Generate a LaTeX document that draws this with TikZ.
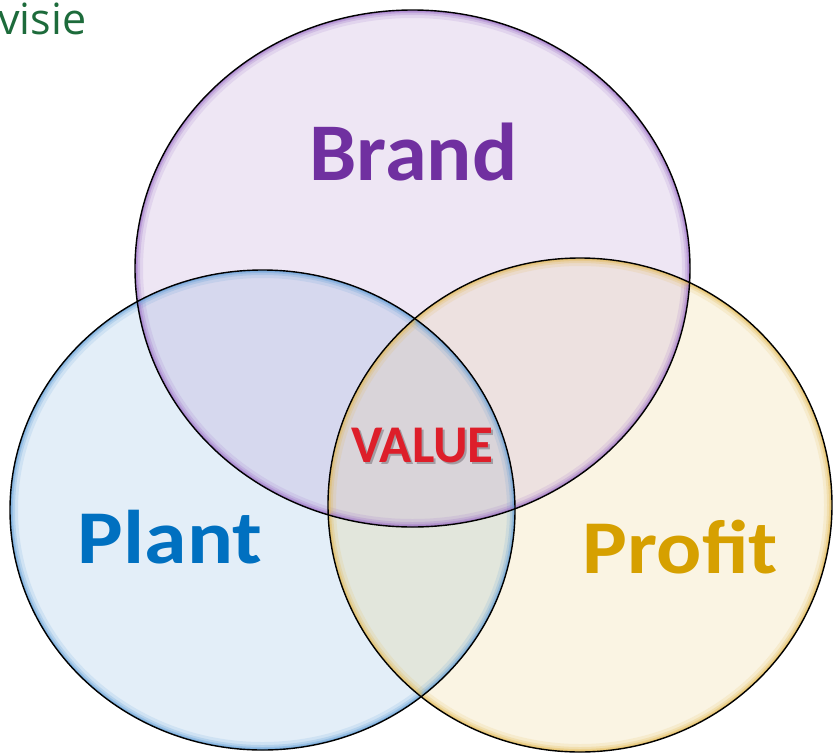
\documentclass[tikz,border=0pt]{standalone}
\usepackage{fontspec}
\setmainfont{Carlito}
\newfontfamily\visiefont{Open Sans}
\begin{document}
\begin{tikzpicture}[x=1pt,y=-1pt,
  lbl/.style={inner sep=0pt,anchor=base,font=\bfseries},
  rim/.style={line width=1.4pt,draw=black}]
\definecolor{brandfill}{HTML}{EEE6F4}
\definecolor{plantfill}{HTML}{E3EEF8}
\definecolor{profitfill}{HTML}{FAF4E3}
\definecolor{bpfill}{HTML}{D6D8EE}
\definecolor{brfill}{HTML}{EDE1E0}
\definecolor{ppfill}{HTML}{E2E6DC}
\definecolor{midfill}{HTML}{D9D4D9}
\definecolor{brandglow}{HTML}{9868C4}
\definecolor{plantglow}{HTML}{5A9AD6}
\definecolor{profitglow}{HTML}{E2B64A}
\definecolor{brandtxt}{HTML}{7030A0}
\definecolor{planttxt}{HTML}{0070C0}
\definecolor{profittxt}{HTML}{D6A000}
\definecolor{valuetxt}{HTML}{DD1E2A}
\definecolor{valueshadow}{HTML}{A29CA2}
\definecolor{visietxt}{HTML}{1D6B3B}
\useasboundingbox (0,0) rectangle (833,753);
\coordinate (cb) at (412.5,268.5);
\coordinate (cl) at (262.5,510);
\coordinate (cr) at (580,505);
\def\brandpath{(cb) ellipse [x radius=277.5pt, y radius=258.5pt]}
\def\plantpath{(cl) ellipse [x radius=252.5pt, y radius=240pt]}
\def\profitpath{(cr) ellipse [x radius=252pt, y radius=247pt]}
% base fills
\fill[brandfill] \brandpath;
\fill[plantfill] \plantpath;
\fill[profitfill] \profitpath;
% pairwise overlaps
\begin{scope}\clip \brandpath; \fill[bpfill] \plantpath; \end{scope}
\begin{scope}\clip \brandpath; \fill[brfill] \profitpath; \end{scope}
\begin{scope}\clip \plantpath; \fill[ppfill] \profitpath; \end{scope}
\begin{scope}\clip \brandpath; \clip \plantpath; \fill[midfill] \profitpath; \end{scope}
% inner glows
\foreach \w/\o in {16/0.14,10/0.22,6/0.32,3/0.45}{
  \begin{scope}\clip \brandpath; \draw[brandglow,line width=\w pt,opacity=\o] \brandpath; \end{scope}
  \begin{scope}\clip \plantpath; \draw[plantglow,line width=\w pt,opacity=\o] \plantpath; \end{scope}
  \begin{scope}\clip \profitpath; \draw[profitglow,line width=\w pt,opacity=\o] \profitpath; \end{scope}
}
% outlines
\draw[rim] \brandpath;
\draw[rim] \plantpath;
\draw[rim] \profitpath;
% labels
\node[lbl,text=brandtxt,font=\bfseries\fontsize{82}{82}\selectfont,xscale=1.03] (brand) at (413.5,180) {Brand};
\node[lbl,text=planttxt,font=\bfseries\fontsize{76}{76}\selectfont,xscale=1.13] (plant) at (170,563) {Plant};
\node[lbl,text=profittxt,font=\bfseries\fontsize{76}{76}\selectfont,xscale=1.11] (profit) at (680.5,573) {Profit};
\node[lbl,text=valuetxt,font=\bfseries\fontsize{53}{53}\selectfont] (value) at (422.5,462)
  {\rlap{\kern2pt\raisebox{-2pt}{\textcolor{valueshadow}{VALUE}}}VALUE};
\node[inner sep=0pt,anchor=base west,text=visietxt,font=\visiefont\fontsize{43}{43}\selectfont] (visie) at (-2,34) {visie};
\end{tikzpicture}
\end{document}
